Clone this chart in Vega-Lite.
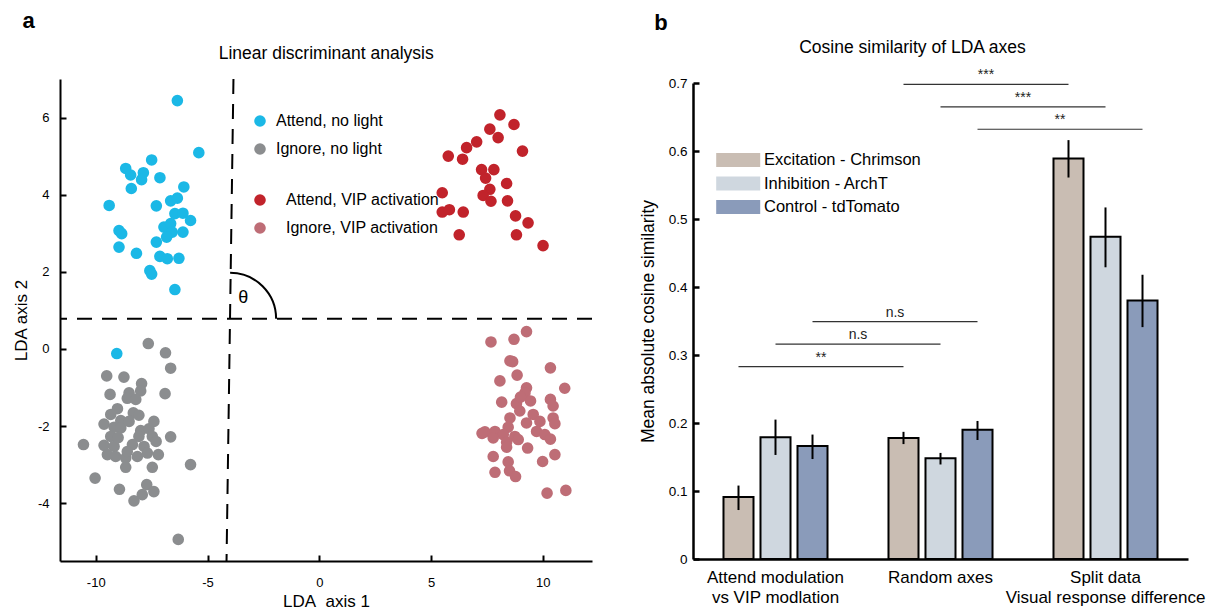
{
  "$schema": "https://vega.github.io/schema/vega-lite/v6.json",
  "padding": {"left": 12, "top": 9, "right": 2, "bottom": 0},
  "spacing": 46,
  "resolve": {"scale": {"color": "independent", "fill": "independent"}, "legend": {"color": "independent", "fill": "independent"}},
  "config": {
    "font": "Liberation Sans",
    "view": {"stroke": null},
    "axis": {"labelColor": "black", "titleColor": "black", "domainColor": "black", "tickColor": "black", "grid": false, "labelFont": "Liberation Sans", "titleFont": "Liberation Sans", "titleFontWeight": "normal"},
    "legend": {"labelFont": "Liberation Sans", "labelColor": "black"},
    "title": {"font": "Liberation Sans", "color": "black"}
  },
  "datasets": {
    "noLight": [
      {"x": -6.35, "y": 6.44, "g": "Attend, no light"}, {"x": -5.39, "y": 5.09, "g": "Attend, no light"}, {"x": -7.5, "y": 4.9, "g": "Attend, no light"}, {"x": -8.66, "y": 4.68, "g": "Attend, no light"}, {"x": -8.44, "y": 4.51, "g": "Attend, no light"}, {"x": -7.87, "y": 4.57, "g": "Attend, no light"}, {"x": -7.95, "y": 4.39, "g": "Attend, no light"}, {"x": -7.13, "y": 4.44, "g": "Attend, no light"}, {"x": -8.41, "y": 4.16, "g": "Attend, no light"}, {"x": -6.06, "y": 4.2, "g": "Attend, no light"}, {"x": -9.4, "y": 3.72, "g": "Attend, no light"}, {"x": -7.29, "y": 3.71, "g": "Attend, no light"}, {"x": -6.65, "y": 3.84, "g": "Attend, no light"}, {"x": -6.35, "y": 3.91, "g": "Attend, no light"}, {"x": -6.46, "y": 3.51, "g": "Attend, no light"}, {"x": -6.1, "y": 3.52, "g": "Attend, no light"}, {"x": -5.76, "y": 3.33, "g": "Attend, no light"}, {"x": -6.95, "y": 3.16, "g": "Attend, no light"}, {"x": -6.65, "y": 3.25, "g": "Attend, no light"}, {"x": -6.58, "y": 3.03, "g": "Attend, no light"}, {"x": -6.83, "y": 2.9, "g": "Attend, no light"}, {"x": -6.1, "y": 3.03, "g": "Attend, no light"}, {"x": -8.96, "y": 3.07, "g": "Attend, no light"}, {"x": -8.84, "y": 2.99, "g": "Attend, no light"}, {"x": -7.29, "y": 2.77, "g": "Attend, no light"}, {"x": -8.96, "y": 2.64, "g": "Attend, no light"}, {"x": -8.18, "y": 2.48, "g": "Attend, no light"}, {"x": -7.13, "y": 2.4, "g": "Attend, no light"}, {"x": -6.8, "y": 2.34, "g": "Attend, no light"}, {"x": -6.28, "y": 2.35, "g": "Attend, no light"}, {"x": -7.58, "y": 2.03, "g": "Attend, no light"}, {"x": -7.5, "y": 1.94, "g": "Attend, no light"}, {"x": -6.46, "y": 1.54, "g": "Attend, no light"},
      {"x": -7.65, "y": 0.14, "g": "Ignore, no light"}, {"x": -6.88, "y": -0.1, "g": "Ignore, no light"}, {"x": -6.65, "y": -0.5, "g": "Ignore, no light"}, {"x": -9.51, "y": -0.7, "g": "Ignore, no light"}, {"x": -8.74, "y": -0.73, "g": "Ignore, no light"}, {"x": -7.95, "y": -0.9, "g": "Ignore, no light"}, {"x": -9.36, "y": -1.18, "g": "Ignore, no light"}, {"x": -8.51, "y": -1.14, "g": "Ignore, no light"}, {"x": -7.99, "y": -1.09, "g": "Ignore, no light"}, {"x": -6.9, "y": -1.16, "g": "Ignore, no light"}, {"x": -8.59, "y": -1.28, "g": "Ignore, no light"}, {"x": -8.21, "y": -1.31, "g": "Ignore, no light"}, {"x": -9.03, "y": -1.55, "g": "Ignore, no light"}, {"x": -8.32, "y": -1.66, "g": "Ignore, no light"}, {"x": -8.07, "y": -1.72, "g": "Ignore, no light"}, {"x": -9.33, "y": -1.7, "g": "Ignore, no light"}, {"x": -9.63, "y": -1.95, "g": "Ignore, no light"}, {"x": -8.88, "y": -1.86, "g": "Ignore, no light"}, {"x": -9.18, "y": -2.03, "g": "Ignore, no light"}, {"x": -7.4, "y": -1.88, "g": "Ignore, no light"}, {"x": -8.88, "y": -2.05, "g": "Ignore, no light"}, {"x": -7.99, "y": -2.12, "g": "Ignore, no light"}, {"x": -7.62, "y": -2.07, "g": "Ignore, no light"}, {"x": -6.65, "y": -2.28, "g": "Ignore, no light"}, {"x": -9.33, "y": -2.27, "g": "Ignore, no light"}, {"x": -10.55, "y": -2.48, "g": "Ignore, no light"}, {"x": -8.07, "y": -2.27, "g": "Ignore, no light"}, {"x": -7.47, "y": -2.27, "g": "Ignore, no light"}, {"x": -9.63, "y": -2.5, "g": "Ignore, no light"}, {"x": -9.18, "y": -2.53, "g": "Ignore, no light"}, {"x": -8.36, "y": -2.48, "g": "Ignore, no light"}, {"x": -7.84, "y": -2.53, "g": "Ignore, no light"}, {"x": -9.48, "y": -2.74, "g": "Ignore, no light"}, {"x": -9.11, "y": -2.79, "g": "Ignore, no light"}, {"x": -8.66, "y": -2.83, "g": "Ignore, no light"}, {"x": -8.14, "y": -2.79, "g": "Ignore, no light"}, {"x": -7.2, "y": -2.74, "g": "Ignore, no light"}, {"x": -8.66, "y": -3.07, "g": "Ignore, no light"}, {"x": -7.47, "y": -3.07, "g": "Ignore, no light"}, {"x": -5.76, "y": -3.0, "g": "Ignore, no light"}, {"x": -10.03, "y": -3.35, "g": "Ignore, no light"}, {"x": -8.94, "y": -3.64, "g": "Ignore, no light"}, {"x": -7.72, "y": -3.52, "g": "Ignore, no light"}, {"x": -7.4, "y": -3.7, "g": "Ignore, no light"}, {"x": -7.92, "y": -3.78, "g": "Ignore, no light"}, {"x": -8.29, "y": -3.94, "g": "Ignore, no light"}, {"x": -6.31, "y": -4.94, "g": "Ignore, no light"}, {"x": -8.59, "y": -2.66, "g": "Ignore, no light"}, {"x": -8.51, "y": -1.88, "g": "Ignore, no light"}, {"x": -7.69, "y": -2.7, "g": "Ignore, no light"}, {"x": -7.3, "y": -2.4, "g": "Ignore, no light"}, {"x": -9.0, "y": -2.3, "g": "Ignore, no light"},
      {"x": -9.06, "y": -0.12, "g": "Attend, no light"}
    ],
    "vip": [
      {"x": 8.08, "y": 6.07, "g": "Attend, VIP activation"}, {"x": 8.71, "y": 5.82, "g": "Attend, VIP activation"}, {"x": 7.63, "y": 5.7, "g": "Attend, VIP activation"}, {"x": 8.0, "y": 5.48, "g": "Attend, VIP activation"}, {"x": 7.04, "y": 5.37, "g": "Attend, VIP activation"}, {"x": 6.59, "y": 5.22, "g": "Attend, VIP activation"}, {"x": 9.09, "y": 5.13, "g": "Attend, VIP activation"}, {"x": 5.77, "y": 5.0, "g": "Attend, VIP activation"}, {"x": 6.41, "y": 4.92, "g": "Attend, VIP activation"}, {"x": 7.26, "y": 4.65, "g": "Attend, VIP activation"}, {"x": 7.81, "y": 4.65, "g": "Attend, VIP activation"}, {"x": 7.44, "y": 4.43, "g": "Attend, VIP activation"}, {"x": 8.38, "y": 4.29, "g": "Attend, VIP activation"}, {"x": 7.63, "y": 4.14, "g": "Attend, VIP activation"}, {"x": 7.33, "y": 3.98, "g": "Attend, VIP activation"}, {"x": 7.68, "y": 3.83, "g": "Attend, VIP activation"}, {"x": 8.42, "y": 3.84, "g": "Attend, VIP activation"}, {"x": 5.5, "y": 4.05, "g": "Attend, VIP activation"}, {"x": 5.5, "y": 3.55, "g": "Attend, VIP activation"}, {"x": 5.82, "y": 3.61, "g": "Attend, VIP activation"}, {"x": 6.44, "y": 3.55, "g": "Attend, VIP activation"}, {"x": 8.78, "y": 3.45, "g": "Attend, VIP activation"}, {"x": 9.34, "y": 3.27, "g": "Attend, VIP activation"}, {"x": 6.26, "y": 2.96, "g": "Attend, VIP activation"}, {"x": 8.82, "y": 2.96, "g": "Attend, VIP activation"}, {"x": 10.01, "y": 2.68, "g": "Attend, VIP activation"},
      {"x": 9.27, "y": 0.45, "g": "Ignore, VIP activation"}, {"x": 7.68, "y": 0.18, "g": "Ignore, VIP activation"}, {"x": 8.71, "y": 0.25, "g": "Ignore, VIP activation"}, {"x": 8.53, "y": -0.31, "g": "Ignore, VIP activation"}, {"x": 8.65, "y": -0.33, "g": "Ignore, VIP activation"}, {"x": 10.34, "y": -0.49, "g": "Ignore, VIP activation"}, {"x": 8.85, "y": -0.68, "g": "Ignore, VIP activation"}, {"x": 8.08, "y": -0.83, "g": "Ignore, VIP activation"}, {"x": 10.98, "y": -1.02, "g": "Ignore, VIP activation"}, {"x": 9.27, "y": -1.01, "g": "Ignore, VIP activation"}, {"x": 9.2, "y": -1.14, "g": "Ignore, VIP activation"}, {"x": 8.16, "y": -1.38, "g": "Ignore, VIP activation"}, {"x": 9.45, "y": -1.35, "g": "Ignore, VIP activation"}, {"x": 8.82, "y": -1.42, "g": "Ignore, VIP activation"}, {"x": 10.34, "y": -1.31, "g": "Ignore, VIP activation"}, {"x": 10.46, "y": -1.48, "g": "Ignore, VIP activation"}, {"x": 8.97, "y": -1.61, "g": "Ignore, VIP activation"}, {"x": 9.57, "y": -1.7, "g": "Ignore, VIP activation"}, {"x": 8.53, "y": -1.79, "g": "Ignore, VIP activation"}, {"x": 10.46, "y": -1.79, "g": "Ignore, VIP activation"}, {"x": 10.54, "y": -1.94, "g": "Ignore, VIP activation"}, {"x": 9.87, "y": -1.88, "g": "Ignore, VIP activation"}, {"x": 9.27, "y": -1.92, "g": "Ignore, VIP activation"}, {"x": 8.45, "y": -2.03, "g": "Ignore, VIP activation"}, {"x": 7.41, "y": -2.15, "g": "Ignore, VIP activation"}, {"x": 7.86, "y": -2.14, "g": "Ignore, VIP activation"}, {"x": 8.23, "y": -2.22, "g": "Ignore, VIP activation"}, {"x": 8.75, "y": -2.27, "g": "Ignore, VIP activation"}, {"x": 9.72, "y": -2.14, "g": "Ignore, VIP activation"}, {"x": 10.09, "y": -2.22, "g": "Ignore, VIP activation"}, {"x": 7.78, "y": -2.31, "g": "Ignore, VIP activation"}, {"x": 8.38, "y": -2.42, "g": "Ignore, VIP activation"}, {"x": 8.9, "y": -2.35, "g": "Ignore, VIP activation"}, {"x": 10.34, "y": -2.34, "g": "Ignore, VIP activation"}, {"x": 8.38, "y": -2.55, "g": "Ignore, VIP activation"}, {"x": 9.32, "y": -2.57, "g": "Ignore, VIP activation"}, {"x": 7.78, "y": -2.79, "g": "Ignore, VIP activation"}, {"x": 10.54, "y": -2.74, "g": "Ignore, VIP activation"}, {"x": 8.45, "y": -2.93, "g": "Ignore, VIP activation"}, {"x": 9.99, "y": -2.92, "g": "Ignore, VIP activation"}, {"x": 7.86, "y": -3.2, "g": "Ignore, VIP activation"}, {"x": 8.51, "y": -3.16, "g": "Ignore, VIP activation"}, {"x": 8.78, "y": -3.31, "g": "Ignore, VIP activation"}, {"x": 10.19, "y": -3.74, "g": "Ignore, VIP activation"}, {"x": 11.03, "y": -3.67, "g": "Ignore, VIP activation"}, {"x": 7.28, "y": -2.19, "g": "Ignore, VIP activation"}, {"x": 9.0, "y": -1.25, "g": "Ignore, VIP activation"}
    ],
    "divider": [{"x": -3.84, "y": 7.0, "x2": -4.15, "y2": -5.5}],
    "bars": [
      {"group": "Attend modulation|vs VIP modlation", "cond": "Excitation - Chrimson", "mean": 0.091, "lo": 0.072, "hi": 0.108},
      {"group": "Attend modulation|vs VIP modlation", "cond": "Inhibition - ArchT", "mean": 0.179, "lo": 0.153, "hi": 0.205},
      {"group": "Attend modulation|vs VIP modlation", "cond": "Control - tdTomato", "mean": 0.166, "lo": 0.147, "hi": 0.183},
      {"group": "Random axes", "cond": "Excitation - Chrimson", "mean": 0.178, "lo": 0.169, "hi": 0.187},
      {"group": "Random axes", "cond": "Inhibition - ArchT", "mean": 0.148, "lo": 0.139, "hi": 0.156},
      {"group": "Random axes", "cond": "Control - tdTomato", "mean": 0.19, "lo": 0.175, "hi": 0.203},
      {"group": "Split data|Visual response difference", "cond": "Excitation - Chrimson", "mean": 0.589, "lo": 0.561, "hi": 0.616},
      {"group": "Split data|Visual response difference", "cond": "Inhibition - ArchT", "mean": 0.474, "lo": 0.429, "hi": 0.517},
      {"group": "Split data|Visual response difference", "cond": "Control - tdTomato", "mean": 0.38, "lo": 0.341, "hi": 0.418}
    ],
    "sigLines": [
      {"id": 1, "group": "Attend modulation|vs VIP modlation", "cond": "Excitation - Chrimson", "level": 0.283},
      {"id": 1, "group": "Random axes", "cond": "Excitation - Chrimson", "level": 0.283},
      {"id": 2, "group": "Attend modulation|vs VIP modlation", "cond": "Inhibition - ArchT", "level": 0.316},
      {"id": 2, "group": "Random axes", "cond": "Inhibition - ArchT", "level": 0.316},
      {"id": 3, "group": "Attend modulation|vs VIP modlation", "cond": "Control - tdTomato", "level": 0.349},
      {"id": 3, "group": "Random axes", "cond": "Control - tdTomato", "level": 0.349},
      {"id": 4, "group": "Random axes", "cond": "Excitation - Chrimson", "level": 0.698},
      {"id": 4, "group": "Split data|Visual response difference", "cond": "Excitation - Chrimson", "level": 0.698},
      {"id": 5, "group": "Random axes", "cond": "Inhibition - ArchT", "level": 0.665},
      {"id": 5, "group": "Split data|Visual response difference", "cond": "Inhibition - ArchT", "level": 0.665},
      {"id": 6, "group": "Random axes", "cond": "Control - tdTomato", "level": 0.632},
      {"id": 6, "group": "Split data|Visual response difference", "cond": "Control - tdTomato", "level": 0.632}
    ],
    "sigText": [
      {"label": "**", "group": "Attend modulation|vs VIP modlation", "cond": "Excitation - Chrimson", "level": 0.283},
      {"label": "n.s", "group": "Attend modulation|vs VIP modlation", "cond": "Inhibition - ArchT", "level": 0.316},
      {"label": "n.s", "group": "Attend modulation|vs VIP modlation", "cond": "Control - tdTomato", "level": 0.349},
      {"label": "***", "group": "Random axes", "cond": "Excitation - Chrimson", "level": 0.698},
      {"label": "***", "group": "Random axes", "cond": "Inhibition - ArchT", "level": 0.665},
      {"label": "**", "group": "Random axes", "cond": "Control - tdTomato", "level": 0.632}
    ]
  },
  "hconcat": [
    {
      "width": 532,
      "height": 482,
      "title": {"text": "a", "fontSize": 22, "fontWeight": "bold", "anchor": "start", "frame": "bounds", "dx": 10, "offset": 12},
      "resolve": {"scale": {"color": "independent"}},
      "encoding": {
        "x": {"type": "quantitative", "scale": {"domain": [-11.6, 12.2], "nice": false, "zero": false},
          "axis": {"values": [-10, -5, 0, 5, 10], "labelExpr": "'' + datum.value", "title": "LDA\u00a0 axis 1", "titleFontSize": 17, "labelFontSize": 13, "tickSize": -6, "tickWidth": 2, "domainWidth": 2, "labelPadding": 21, "titlePadding": 4}},
        "y": {"type": "quantitative", "scale": {"domain": [-5.5, 7], "nice": false, "zero": false},
          "axis": {"values": [-4, -2, 0, 2, 4, 6], "labelExpr": "'' + datum.value", "title": "LDA axis 2", "titleFontSize": 17, "labelFontSize": 13, "tickSize": -6, "tickWidth": 2, "domainWidth": 2, "labelPadding": 17, "titlePadding": 7}}
      },
      "layer": [
        {
          "data": {"name": "noLight"},
          "mark": {"type": "circle", "size": 135, "opacity": 1},
          "encoding": {
            "x": {"field": "x", "type": "quantitative"},
            "y": {"field": "y", "type": "quantitative"},
            "color": {"field": "g", "type": "nominal",
              "scale": {"domain": ["Attend, no light", "Ignore, no light"], "range": ["#1BB8E6", "#8B8D8F"]},
              "legend": {"orient": "none", "legendX": 192, "legendY": 34, "title": null, "labelFontSize": 16, "symbolSize": 135, "symbolType": "circle", "symbolStrokeWidth": 0, "rowPadding": 12, "labelOffset": 8, "padding": 0}}
          }
        },
        {
          "data": {"name": "vip"},
          "mark": {"type": "circle", "size": 135, "opacity": 1},
          "encoding": {
            "x": {"field": "x", "type": "quantitative"},
            "y": {"field": "y", "type": "quantitative"},
            "color": {"field": "g", "type": "nominal",
              "scale": {"domain": ["Attend, VIP activation", "Ignore, VIP activation"], "range": ["#C1232B", "#BE6D76"]},
              "legend": {"orient": "none", "legendX": 192, "legendY": 113, "title": null, "labelFontSize": 16, "symbolSize": 135, "symbolType": "circle", "symbolStrokeWidth": 0, "rowPadding": 12, "labelOffset": 18, "padding": 0}}
          }
        },
        {
          "data": {"values": [{}]},
          "mark": {"type": "rule", "strokeDash": [15, 10], "strokeWidth": 2, "color": "black"},
          "encoding": {"y": {"datum": 0.78, "type": "quantitative"}}
        },
        {
          "data": {"name": "divider"},
          "mark": {"type": "rule", "strokeDash": [15, 10], "strokeWidth": 2, "color": "black"},
          "encoding": {
            "x": {"field": "x", "type": "quantitative"},
            "y": {"field": "y", "type": "quantitative"},
            "x2": {"field": "x2"},
            "y2": {"field": "y2"}
          }
        },
        {
          "data": {"values": [{}]},
          "mark": {"type": "point", "shape": "M0,-1A1,1,0,0,1,1,0", "size": 8464, "filled": false, "stroke": "black", "strokeWidth": 2, "opacity": 1},
          "encoding": {"x": {"datum": -3.99, "type": "quantitative"}, "y": {"datum": 0.78, "type": "quantitative"}}
        },
        {
          "data": {"values": [{}]},
          "mark": {"type": "text", "text": "θ", "fontSize": 18, "color": "black"},
          "encoding": {"x": {"datum": -3.4, "type": "quantitative"}, "y": {"datum": 1.33, "type": "quantitative"}}
        },
        {
          "data": {"values": [{}]},
          "mark": {"type": "text", "text": "Linear discriminant analysis", "fontSize": 17.5, "color": "black", "baseline": "middle"},
          "encoding": {"x": {"datum": 0.31, "type": "quantitative"}, "y": {"datum": 7.65, "type": "quantitative"}}
        }
      ]
    },
    {
      "width": 495,
      "height": 480,
      "title": {"text": "b", "fontSize": 22, "fontWeight": "bold", "anchor": "start", "frame": "bounds", "dx": 15, "offset": 4},
      "encoding": {
        "x": {"field": "group", "type": "nominal",
          "sort": ["Attend modulation|vs VIP modlation", "Random axes", "Split data|Visual response difference"],
          "scale": {"paddingInner": 0, "paddingOuter": 0},
          "axis": {"title": null, "labelExpr": "split(datum.label, '|')", "labelFontSize": 17, "labelLineHeight": 20, "ticks": false, "domainWidth": 2.5, "labelPadding": 10, "labelAngle": 0, "labelLimit": 400, "labelOverlap": false, "labelBound": false}},
        "xOffset": {"field": "cond", "type": "nominal",
          "sort": ["Excitation - Chrimson", "Inhibition - ArchT", "Control - tdTomato"],
          "scale": {"paddingInner": 0.189, "paddingOuter": 0.824}},
        "y": {"type": "quantitative", "scale": {"domain": [0, 0.7], "nice": false, "range": [480, 4]},
          "axis": {"values": [0, 0.1, 0.2, 0.3, 0.4, 0.5, 0.6, 0.7], "format": "~g", "title": "Mean absolute cosine similarity", "titleFontSize": 17.5, "titlePadding": 11, "labelFontSize": 13.5, "labelPadding": 12, "tickSize": -6, "tickWidth": 2.5, "domainWidth": 2.5}}
      },
      "layer": [
        {
          "data": {"name": "bars"},
          "mark": {"type": "bar", "stroke": "black", "strokeWidth": 2},
          "encoding": {
            "y": {"field": "mean", "type": "quantitative"},
            "fill": {"field": "cond", "type": "nominal",
              "scale": {"domain": ["Excitation - Chrimson", "Inhibition - ArchT", "Control - tdTomato"], "range": ["#C9BDB3", "#CFD7DF", "#8A9BBA"]},
              "legend": {"orient": "none", "legendX": 23, "legendY": 72, "title": null, "labelFontSize": 16.5, "symbolType": "M-1,-0.8H4V0.8H-1Z", "symbolSize": 310, "symbolStrokeWidth": 0, "rowPadding": 5.5, "labelOffset": 30, "padding": 0}}
          }
        },
        {
          "data": {"name": "bars"},
          "mark": {"type": "rule", "color": "black", "strokeWidth": 2},
          "encoding": {
            "y": {"field": "lo", "type": "quantitative"},
            "y2": {"field": "hi"}
          }
        },
        {
          "data": {"name": "sigLines"},
          "mark": {"type": "line", "color": "#333333", "strokeWidth": 1.2},
          "encoding": {
            "y": {"field": "level", "type": "quantitative"},
            "detail": {"field": "id", "type": "nominal"}
          }
        },
        {
          "data": {"name": "sigText"},
          "mark": {"type": "text", "fontSize": 14, "baseline": "bottom", "dy": -2, "dx": 82.5, "color": "#222222"},
          "encoding": {
            "y": {"field": "level", "type": "quantitative"},
            "text": {"field": "label"}
          }
        },
        {
          "data": {"values": [{}]},
          "mark": {"type": "text", "text": "Cosine similarity of LDA axes", "fontSize": 17.5, "color": "black", "baseline": "middle", "dx": -28},
          "encoding": {
            "x": {"datum": "Random axes", "type": "nominal"},
            "xOffset": null,
            "y": {"datum": 0.7515, "type": "quantitative"}
          }
        }
      ]
    }
  ]
}
